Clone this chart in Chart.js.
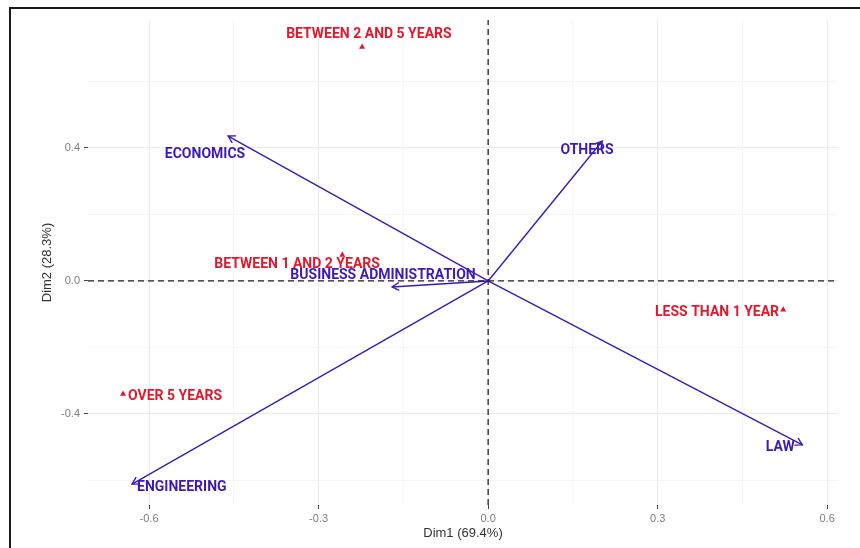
<!DOCTYPE html>
<html>
<head>
<meta charset="utf-8">
<script src="https://cdn.jsdelivr.net/npm/chart.js@4.4.0/dist/chart.umd.min.js"></script>
<style>
  html, body { margin: 0; padding: 0; background: #fff; }
  #wrap { position: relative; width: 860px; height: 548px; overflow: hidden; }
  #frame { position: absolute; left: 9px; top: 7px; width: 860px; height: 560px;
           border-left: 2px solid #1a1a1a; border-top: 2px solid #1a1a1a; }
  #chart { position: absolute; left: 0; top: 0; }
</style>
</head>
<body>
<div id="wrap">
  <div id="frame"></div>
  <canvas id="chart" width="860" height="548"></canvas>
</div>
<script>
// column variables (arrows)
const varNames = ['ECONOMICS', 'OTHERS', 'BUSINESS ADMINISTRATION', 'LAW', 'ENGINEERING'];
const varX = [-0.460, 0.202, -0.170, 0.556, -0.630];
const varY = [0.436, 0.421, -0.018, -0.493, -0.611];
const varLabelX = [-0.501, 0.175, -0.186, 0.517, -0.542];
const varLabelY = [0.385, 0.397, 0.021, -0.496, -0.614];

// row categories (points)
const rowNames = ['BETWEEN 2 AND 5 YEARS', 'BETWEEN 1 AND 2 YEARS', 'LESS THAN 1 YEAR', 'OVER 5 YEARS'];
const rowX = [-0.223, -0.258, 0.522, -0.646];
const rowY = [0.704, 0.078, -0.087, -0.340];
const rowLabelX = [-0.211, -0.338, 0.405, -0.554];
const rowLabelY = [0.746, 0.054, -0.090, -0.343];

// axes
const xRange = [-0.708, 0.619];
const yRange = [-0.674, 0.785];
const xTicks = [-0.6, -0.3, 0.0, 0.3, 0.6];
const xTickLabels = ['-0.6', '-0.3', '0.0', '0.3', '0.6'];
const xMinor = [-0.45, -0.15, 0.15, 0.45];
const yTicks = [-0.4, 0.0, 0.4];
const yTickLabels = ['-0.4', '0.0', '0.4'];
const yMinor = [-0.6, -0.2, 0.2, 0.6];

const BLUE = '#3c1ab8';
const RED = '#e5172c';

const isMajor = (v, list) => list.some(t => Math.abs(t - v) < 1e-9);
const labelFor = (v, list, labels) => {
  const i = list.findIndex(t => Math.abs(t - v) < 1e-9);
  return i >= 0 ? labels[i] : '';
};

const datasets = [
  {
    type: 'line',
    data: [{ x: xRange[0], y: 0 }, { x: xRange[1], y: 0 }],
    borderColor: '#222', borderWidth: 1.3, borderDash: [6, 4], pointRadius: 0
  },
  {
    type: 'line',
    data: [{ x: 0, y: yRange[0] }, { x: 0, y: yRange[1] }],
    borderColor: '#222', borderWidth: 1.3, borderDash: [6, 4], pointRadius: 0
  },
  {
    type: 'scatter',
    data: rowX.map((x, i) => ({ x, y: rowY[i] })),
    pointStyle: 'triangle', pointRadius: 3.5, backgroundColor: RED, borderWidth: 0
  }
];
varNames.forEach((n, i) => {
  datasets.push({
    type: 'line',
    data: [{ x: 0, y: 0 }, { x: varX[i], y: varY[i] }],
    borderColor: BLUE, borderWidth: 1.4, pointRadius: 0
  });
});

const arrowAndLabels = {
  id: 'arrowAndLabels',
  afterDatasetsDraw(chart) {
    const { ctx, scales: { x, y } } = chart;
    ctx.save();
    // arrow heads
    ctx.strokeStyle = BLUE;
    ctx.lineWidth = 1.4;
    varX.forEach((vx, i) => {
      const x0 = x.getPixelForValue(0), y0 = y.getPixelForValue(0);
      const x1 = x.getPixelForValue(vx), y1 = y.getPixelForValue(varY[i]);
      const a = Math.atan2(y1 - y0, x1 - x0);
      const len = 8, spread = Math.PI / 6;
      ctx.beginPath();
      ctx.moveTo(x1 - len * Math.cos(a - spread), y1 - len * Math.sin(a - spread));
      ctx.lineTo(x1, y1);
      ctx.lineTo(x1 - len * Math.cos(a + spread), y1 - len * Math.sin(a + spread));
      ctx.stroke();
    });
    // labels (nudged 2px down, Roboto sits a bit high with 'middle')
    ctx.textAlign = 'center';
    ctx.textBaseline = 'middle';
    ctx.font = 'bold 14px Roboto';
    ctx.fillStyle = RED;
    rowNames.forEach((n, i) => {
      ctx.fillText(n, x.getPixelForValue(rowLabelX[i]), y.getPixelForValue(rowLabelY[i]) + 2);
    });
    ctx.fillStyle = BLUE;
    varNames.forEach((n, i) => {
      ctx.fillText(n, x.getPixelForValue(varLabelX[i]), y.getPixelForValue(varLabelY[i]) + 2);
    });
    ctx.restore();
  }
};

new Chart(document.getElementById('chart'), {
  data: { datasets },
  options: {
    responsive: false,
    animation: false,
    devicePixelRatio: 1,
    layout: { padding: { left: 10, top: 20, right: 22, bottom: 0 } },
    plugins: { legend: { display: false }, tooltip: { enabled: false } },
    scales: {
      x: {
        type: 'linear', min: xRange[0], max: xRange[1],
        afterBuildTicks: s => { s.ticks = xTicks.concat(xMinor).sort((a, b) => a - b).map(v => ({ value: v })); },
        afterFit: s => { s.height = 43; },
        border: { display: false },
        grid: {
          color: c => isMajor(c.tick.value, xTicks) ? '#ebebeb' : '#f5f5f5',
          tickColor: c => isMajor(c.tick.value, xTicks) ? '#444' : 'rgba(0,0,0,0)',
          tickLength: 4
        },
        ticks: {
          autoSkip: false, maxRotation: 0, padding: 3,
          color: '#7d7d7d', font: { family: 'Liberation Sans', size: 11 },
          callback: v => labelFor(v, xTicks, xTickLabels)
        },
        title: {
          display: true, text: 'Dim1 (69.4%)', color: '#333',
          font: { family: 'Liberation Sans', size: 13 }, padding: { top: 0, bottom: 7 }
        }
      },
      y: {
        type: 'linear', min: yRange[0], max: yRange[1],
        afterBuildTicks: s => { s.ticks = yTicks.concat(yMinor).sort((a, b) => a - b).map(v => ({ value: v })); },
        afterFit: s => { s.width = 78; },
        border: { display: false },
        grid: {
          color: c => isMajor(c.tick.value, yTicks) ? '#ebebeb' : '#f5f5f5',
          tickColor: c => isMajor(c.tick.value, yTicks) ? '#444' : 'rgba(0,0,0,0)',
          tickLength: 4
        },
        ticks: {
          autoSkip: false, padding: 4,
          color: '#7d7d7d', font: { family: 'Liberation Sans', size: 11 },
          callback: v => labelFor(v, yTicks, yTickLabels)
        },
        title: {
          display: true, text: 'Dim2 (28.3%)', color: '#333',
          font: { family: 'Liberation Sans', size: 13 }, padding: { top: 30, bottom: 0 }
        }
      }
    }
  },
  plugins: [arrowAndLabels]
});
</script>
</body>
</html>
